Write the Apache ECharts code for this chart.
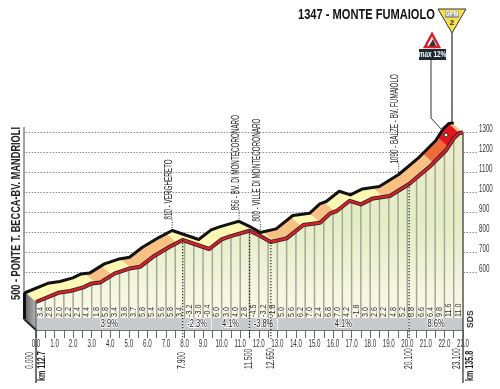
<!DOCTYPE html>
<html>
<head>
<meta charset="utf-8">
<style>
html,body{margin:0;padding:0;background:#fff;}
#main{width:500px;height:389px;}
</style>
<script src="https://cdn.jsdelivr.net/npm/echarts@6/dist/echarts.min.js"></script>
</head>
<body>
<div id="main"></div>
<script>
var titleText = '1347 - MONTE FUMAIOLO';
var startName = '500 - PONTE T. BECCA-BV. MANDRIOLI';

// profile
var profileKm = [0,1.2,1.85,2.55,3,3.45,4.25,4.5,5.05,5.6,6.3,7.2,7.9,9.33,10,10.45,11,11.5,12.06,12.65,13.5,14.4,15.3,15.85,16.2,16.9,17.5,18.15,19.06,20.1,21.2,22.1,22.5,22.8,23];
var profileAlt = [500,546,555,573,593,597,643,651,668,676,726,776,810,765,813,828,843,856,831,800,818,885,896,943,955,1006,988,1018,1030,1090,1176,1260,1318,1345,1347];

// gradient of every half km
var halfKmGrades = ['3.4','2.8','2.0','2.2','2.4','4.4','1.8','5.8','3.4','3.8','3.7','5.8','5.4','5.6','5.8','3.4',
    '-3.2','-3.0','-0.4','6.0','3.0','4.0','2.8',
    '-4.5','-3.2','-1.8','5.0','5.6','6.2','7.0','2.4','6.8','7.0','4.2','-1.8','3.0','2.6','2.2','4.8','5.2','6.8','6.6','6.4','9.8','11.6','11.0'];

// sections in the grey band
var sectionStart = [0,7.9,9.45,11.5,13,20.1];
var sectionEnd = [7.9,9.45,11.5,13,20.1,23];
var sectionGrade = ['3.9%','-2.3%','4.1%','-3.8%','4.1%','8.6%'];

// steepness level of the ribbon
var ribbonStart = [0,3.2,4.1,5.1,7.6,12.8,14.3,15.3,16.1,18.7,21.4,22.2,22.8];
var ribbonEnd = [3.2,4.1,5.1,7.6,12.8,14.3,15.3,16.1,18.7,21.4,22.2,22.8,23];
var ribbonLevel = [0,1,0,1,0,1,0,1,0,1,2,3,1];

// named points
var waypointKm = [7.9,11.5,12.65,20.1];
var waypointAlt = [810,856,800,1090];
var waypointName = ['810 - VERGHERETO','856 - BV. DI MONTECORONARO','800 - VILLE DI MONTECORONARO','1090 - BALZE - BV. FUMAIOLO'];
var waypointDist = ['7.900','11.500','12.650','20.100'];

var altTicks = [600,700,800,900,1000,1100,1200,1300];
var kmTicks = [0,1,2,3,4,5,6,7,8,9,10,11,12,13,14,15,16,17,18,19,20,21,22,23];

var ribbonColors = ['#fdf7b4','#f8c184','#ef6a36','#e5141f'];
var font = '"Liberation Sans",sans-serif';
var backDx = -10.5, backDy = -9.5;

var profilePoints = [];
for (var i = 0; i < profileKm.length; i++) {
    profilePoints.push([profileKm[i], profileAlt[i]]);
}

function altAt(km) {
    for (var i = 1; i < profileKm.length; i++) {
        if (km <= profileKm[i]) {
            var t = (km - profileKm[i-1]) / (profileKm[i] - profileKm[i-1]);
            return profileAlt[i-1] + t * (profileAlt[i] - profileAlt[i-1]);
        }
    }
    return profileAlt[profileAlt.length - 1];
}

// rotated text, squeezed along its length because no narrow font is installed
function rotText(x, y, text, size, squeeze, weight, color) {
    return {
        type: 'text', x: x, y: y, rotation: Math.PI / 2, scaleX: squeeze,
        style: {text: text, x: 0, y: 0, fill: color || '#222', align: 'left', verticalAlign: 'middle',
            fontFamily: font, fontSize: size, fontWeight: weight || 'normal'}
    };
}

function flatText(x, y, text, size, squeeze, align, extra) {
    var style = {text: text, x: 0, y: 0, fill: '#333', align: align || 'center', verticalAlign: 'middle', fontFamily: font, fontSize: size};
    for (var k in extra) style[k] = extra[k];
    return {type: 'text', x: x, y: y, scaleX: squeeze, style: style};
}

function indexList(arr) {
    return arr.map(function (v, i) { return [i]; });
}

// ribbon between the front line and the back line
function renderRibbon(params, api) {
    var i = api.value(0);
    var pts = [ribbonStart[i]];
    profileKm.forEach(function (k) {
        if (k > ribbonStart[i] && k < ribbonEnd[i]) pts.push(k);
    });
    pts.push(ribbonEnd[i]);
    var front = pts.map(function (k) { return api.coord([k, altAt(k)]); });
    var back = front.map(function (p) { return [p[0] + backDx, p[1] + backDy]; }).reverse();
    return {type: 'polygon', shape: {points: front.concat(back)}, style: {fill: ribbonColors[ribbonLevel[i]]}};
}

// left side of the block
function renderSide(params, api) {
    var a = api.coord([0, 500]);
    var b = api.coord([0, 360]);
    var top = [a[0] + backDx, a[1] + backDy];
    var bot = [b[0] + backDx, b[1] + backDy - 1];
    var r = api.coord([23, 1347]);
    var r2 = api.coord([23, 360]);
    return {type: 'group', children: [
        {type: 'polygon', shape: {points: [top, a, b, bot]},
            style: {fill: new echarts.graphic.LinearGradient(0, 0, 1, 0, [{offset: 0, color: '#6b6b6d'}, {offset: 1, color: '#b4b5b8'}])}},
        {type: 'line', shape: {x1: top[0] - 1, y1: top[1], x2: bot[0] - 1, y2: bot[1]}, style: {stroke: '#111', lineWidth: 3}},
        {type: 'line', shape: {x1: bot[0] - 1, y1: bot[1], x2: b[0], y2: b[1]}, style: {stroke: '#222', lineWidth: 2}},
        {type: 'line', shape: {x1: a[0], y1: a[1], x2: b[0], y2: b[1]}, style: {stroke: '#444', lineWidth: 1}},
        {type: 'line', shape: {x1: a[0], y1: b[1], x2: a[0], y2: b[1] + 53}, style: {stroke: '#444', lineWidth: 1.5}},
        {type: 'line', shape: {x1: r[0], y1: r[1], x2: r2[0], y2: r2[1] + 53}, style: {stroke: '#555', lineWidth: 1.5}},
        rotText(a[0] - 6, b[1] + 39, '0.000', 10, 0.68),
        rotText(a[0] + 6, b[1] + 51, 'km 112.7', 10.5, 0.68, 'bold'),
        rotText(r[0] - 6, b[1] + 39, '23.100', 10, 0.68),
        rotText(r[0] + 7, b[1] + 51, 'km 135.8', 10.5, 0.68, 'bold'),
        rotText(r[0] + 7, b[1] - 2, 'SDS', 9.5, 0.9, 'bold', '#333')
    ]};
}

// grey stripes under the profile, with the half km gradient
function renderStripe(params, api) {
    var i = api.value(0);
    var km = (i + 1) * 0.5;
    var p = api.coord([km, altAt(km)]);
    var base = api.coord([km, 420]);
    var mid = api.coord([km - 0.25, 420]);
    var children = [];
    if (i < halfKmGrades.length - 1) {
        children.push({type: 'line', shape: {x1: p[0], y1: p[1], x2: base[0], y2: base[1]}, style: {stroke: '#a5a799', lineWidth: 1.5}});
    }
    children.push(rotText(mid[0], base[1] - 1, halfKmGrades[i], 8.5, 0.85, 'normal', '#333'));
    return {type: 'group', children: children};
}

function renderSection(params, api) {
    var i = api.value(0);
    var a = api.coord([sectionStart[i], 420]);
    var b = api.coord([sectionEnd[i], 360]);
    return {type: 'group', children: [
        {type: 'rect', shape: {x: a[0], y: a[1], width: b[0] - a[0], height: b[1] - a[1]}, style: {fill: '#c8cace'}},
        {type: 'line', shape: {x1: a[0], y1: a[1], x2: a[0], y2: b[1]}, style: {stroke: '#eef0f0', lineWidth: 1}},
        flatText((a[0] + b[0]) / 2, (a[1] + b[1]) / 2, sectionGrade[i], 11, 0.68, 'center', {fill: '#222', stroke: '#fff', lineWidth: 2})
    ]};
}

function renderWaypoint(params, api) {
    var i = api.value(0);
    var km = waypointKm[i];
    var p = api.coord([km, waypointAlt[i]]);
    var base = api.coord([km, 360]);
    var bx = p[0] + backDx, by = p[1] + backDy;
    return {type: 'group', children: [
        {type: 'line', shape: {x1: bx, y1: by, x2: bx, y2: by - 11}, style: {stroke: '#333', lineWidth: 1, lineDash: [1, 1.5]}},
        rotText(bx - 3, by - 11, waypointName[i], 10, 0.63),
        {type: 'line', shape: {x1: p[0], y1: p[1], x2: p[0], y2: base[1] + 9}, style: {stroke: '#222', lineWidth: 1.2, lineDash: [1.2, 1.8]}},
        rotText(p[0], base[1] + 39, waypointDist[i], 10, 0.68)
    ]};
}

function renderKmLabel(params, api) {
    var k = kmTicks[api.value(0)];
    var p = api.coord([k, 360]);
    return flatText(p[0], p[1] + 14, k.toFixed(1), 10, 0.62);
}

function renderAltLabel(params, api) {
    var a = altTicks[api.value(0)];
    var p = api.coord([24.32, a]);
    return flatText(p[0] + 2, p[1] - 3, String(a), 10, 0.62, 'left');
}

function customSeries(render, arr, z) {
    return {type: 'custom', xAxisIndex: 0, yAxisIndex: 0, z: z, silent: true, renderItem: render, data: indexList(arr)};
}

var altLabelSeries = customSeries(renderAltLabel, altTicks, 10);
altLabelSeries.xAxisIndex = 1;
altLabelSeries.yAxisIndex = 1;

var chart = echarts.init(document.getElementById('main'));
var option = {
    animation: false,
    backgroundColor: '#fff',
    grid: [
        {left: 36, top: 122, width: 427, height: 208, outerBoundsMode: 'none'},
        {left: 25.5, top: 132.5, width: 451.5, height: 140, outerBoundsMode: 'none'}
    ],
    xAxis: [
        {
            type: 'value', gridIndex: 0, min: 0, max: 23, interval: 0.5,
            splitLine: {show: false},
            axisLine: {lineStyle: {color: '#444', width: 1.5}},
            axisTick: {length: 8, lineStyle: {color: '#666', width: 1}},
            axisLabel: {show: false}
        },
        {type: 'value', gridIndex: 1, min: 0, max: 24.32, show: false}
    ],
    yAxis: [
        {type: 'value', gridIndex: 0, min: 360, max: 1400, show: false},
        {
            type: 'value', gridIndex: 1, min: altTicks[0], max: altTicks[altTicks.length - 1], interval: 100, position: 'right',
            axisLine: {show: false}, axisTick: {show: false}, axisLabel: {show: false},
            splitLine: {show: true, lineStyle: {type: [1.5, 1.5], color: '#8a8a8a', width: 1}}
        }
    ],
    series: [
        {
            type: 'line', xAxisIndex: 0, yAxisIndex: 0, z: 2, data: profilePoints, showSymbol: false, silent: true,
            lineStyle: {width: 0},
            areaStyle: {opacity: 1, origin: 'start', color: new echarts.graphic.LinearGradient(0, 0, 0, 1, [
                {offset: 0, color: '#ecedc8'}, {offset: 0.45, color: '#e4ecc4'}, {offset: 1, color: '#fdfcef'}
            ])}
        },
        customSeries(renderStripe, halfKmGrades, 3),
        customSeries(renderSection, sectionStart, 4),
        customSeries(renderRibbon, ribbonStart, 5),
        customSeries(renderSide, [0], 6),
        {
            type: 'line', xAxisIndex: 1, yAxisIndex: 1, z: 7, data: profilePoints, showSymbol: false, silent: true, clip: false,
            lineStyle: {color: '#111', width: 3, join: 'round', cap: 'round'}
        },
        {
            type: 'line', xAxisIndex: 0, yAxisIndex: 0, z: 8, data: profilePoints, showSymbol: false, silent: true, clip: false,
            lineStyle: {color: '#222', width: 4, join: 'round'}
        },
        {
            type: 'line', xAxisIndex: 0, yAxisIndex: 0, z: 9, data: profilePoints, showSymbol: false, silent: true, clip: false,
            lineStyle: {color: '#d81f2c', width: 2.4, join: 'round'}
        },
        customSeries(renderWaypoint, waypointKm, 10),
        customSeries(renderKmLabel, kmTicks, 10),
        altLabelSeries
    ],
    graphic: [
        {type: 'text', z: 20, x: 298, y: 15, scaleX: 0.74,
            style: {text: titleText, fill: '#111', align: 'left', verticalAlign: 'middle', fontFamily: font, fontSize: 15, fontWeight: 'bold'}},
        // start name and back axis
        {type: 'line', z: 20, shape: {x1: 24, y1: 127, x2: 24, y2: 292}, style: {stroke: '#666', lineWidth: 1.2}},
        {type: 'text', z: 20, x: 16, y: 300, rotation: Math.PI / 2, scaleX: 0.71,
            style: {text: startName, fill: '#222', align: 'left', verticalAlign: 'middle', fontFamily: font, fontSize: 13, fontWeight: 'bold'}},
        // GPM sign
        {type: 'line', z: 20, shape: {x1: 452, y1: 33, x2: 452, y2: 122}, style: {stroke: '#555', lineWidth: 1.5}},
        {type: 'polygon', z: 21, shape: {points: [[438, 9], [466, 9], [452, 33]]}, style: {fill: '#f7e04b', stroke: '#333', lineWidth: 1}},
        {type: 'rect', z: 22, shape: {x: 445, y: 11, width: 14, height: 7}, style: {fill: '#9b9c94'}},
        {type: 'text', z: 23, x: 452, y: 14.5, scaleX: 0.8, style: {text: 'GPM', fill: '#fff', align: 'center', verticalAlign: 'middle', fontFamily: font, fontSize: 7, fontWeight: 'bold'}},
        {type: 'text', z: 23, x: 452, y: 23, style: {text: '2', fill: '#222', align: 'center', verticalAlign: 'middle', fontFamily: font, fontSize: 8, fontWeight: 'bold'}},
        // max gradient sign
        {type: 'polyline', z: 20, shape: {points: [[431, 60], [431, 118], [442, 130]]}, style: {stroke: '#333', fill: 'none', lineWidth: 1}},
        {type: 'polygon', z: 21, shape: {points: [[432, 34], [425, 47], [439, 47]]}, style: {fill: '#fff', stroke: '#d8202c', lineWidth: 2.5}},
        {type: 'polygon', z: 22, shape: {points: [[433, 39], [429, 46], [436, 46]]}, style: {fill: '#333'}},
        {type: 'rect', z: 21, shape: {x: 419, y: 49, width: 27, height: 11}, style: {fill: '#1b2a33'}},
        {type: 'text', z: 22, x: 432.5, y: 55, scaleX: 0.72, style: {text: 'max 12%', fill: '#fff', align: 'center', verticalAlign: 'middle', fontFamily: font, fontSize: 9, fontWeight: 'bold'}},
        {type: 'circle', z: 20, shape: {cx: 446, cy: 135, r: 2}, style: {fill: '#fff', stroke: '#222', lineWidth: 1}}
    ]
};
chart.setOption(option);
</script>
</body>
</html>
